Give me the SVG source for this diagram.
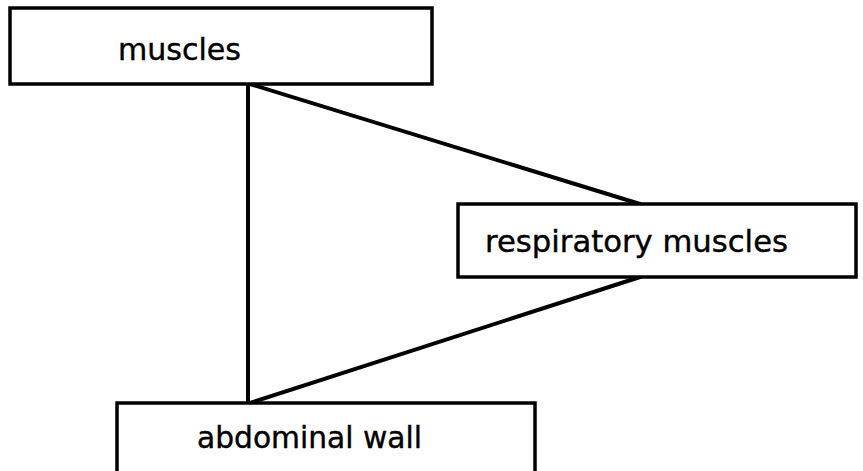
<svg xmlns="http://www.w3.org/2000/svg" width="863" height="471" viewBox="0 0 863 471">
<style>
.box{fill:#fff;stroke:#000;stroke-width:3.5}
.lbl{font-family:"DejaVu Sans","Liberation Sans",sans-serif;font-size:30px;fill:#000;stroke:#000;stroke-width:0.4}
.ln{stroke:#000;stroke-width:4;fill:none;stroke-linecap:round}
</style>
<rect width="863" height="471" fill="#fff"/>
<g id="connectors">
<line class="ln" x1="248" y1="84" x2="248" y2="403"/>
<line class="ln" x1="250" y1="84" x2="640" y2="204"/>
<line class="ln" x1="250" y1="403" x2="640" y2="277"/>
</g>
<g id="muscles">
<rect class="box" x="10" y="8" width="422" height="76"/>
<text class="lbl" x="118" y="60" textLength="123" lengthAdjust="spacingAndGlyphs">muscles</text>
</g>
<g id="respiratory-muscles">
<rect class="box" x="458" y="204" width="398" height="73"/>
<text class="lbl" x="485" y="252" textLength="303" lengthAdjust="spacingAndGlyphs">respiratory muscles</text>
</g>
<g id="abdominal-wall">
<rect class="box" x="117" y="403" width="418" height="72"/>
<text class="lbl" x="197" y="448" textLength="225" lengthAdjust="spacingAndGlyphs">abdominal wall</text>
</g>
</svg>
